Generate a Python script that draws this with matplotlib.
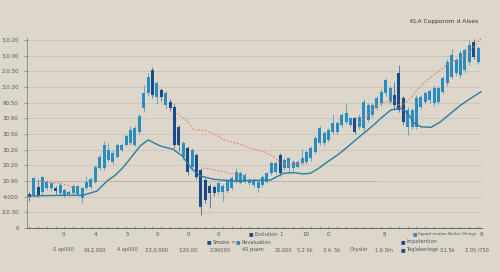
import numpy as np
import matplotlib
matplotlib.use("Agg")
import matplotlib.pyplot as plt

# candle data (open, close, high, low) per session
opens = [2.15, 2.11, 2.64, 2.32, 2.53, 2.53, 2.57, 2.25, 2.11, 2.15,
         2.21, 2.17, 1.90, 2.53, 2.60, 2.95, 3.81, 3.81, 4.34, 4.23,
         4.55, 4.98, 5.30, 5.41, 5.30, 6.15, 7.64, 8.60, 10.08, 8.38,
         8.81, 7.85, 8.06, 7.74, 6.46, 4.55, 5.09, 3.91, 4.66, 3.70,
         3.06, 2.68, 2.64, 2.32, 2.32, 2.38, 2.53, 2.95, 2.89, 2.95,
         2.89, 2.74, 2.53, 2.74, 2.95, 3.49, 3.59, 4.66, 3.81, 3.81,
         3.81, 3.91, 4.13, 4.23, 4.45, 4.87, 5.41, 5.41, 5.62, 6.15,
         6.15, 6.57, 6.78, 6.57, 7.00, 6.46, 6.36, 6.89, 7.21, 7.64,
         7.96, 8.60, 8.06, 8.49, 9.87, 8.28, 6.46, 6.46, 6.46, 7.74,
         8.06, 8.17, 7.96, 8.06, 8.70, 9.23, 9.66, 9.87, 9.76, 10.08,
         10.61, 11.89, 10.61]
closes = [1.96, 3.17, 2.11, 3.24, 2.95, 2.85, 2.38, 2.74, 2.43, 2.28,
          2.68, 2.68, 2.53, 2.95, 3.11, 3.87, 4.55, 5.30, 4.98, 4.81,
          5.30, 5.28, 5.87, 6.25, 6.36, 7.15, 8.60, 9.66, 8.49, 9.27,
          8.38, 8.60, 7.64, 5.30, 5.30, 5.41, 3.59, 4.98, 3.27, 1.36,
          1.79, 2.21, 2.21, 2.85, 2.68, 3.02, 3.17, 3.59, 3.53, 3.38,
          3.06, 3.06, 2.95, 3.27, 3.49, 4.13, 4.13, 3.49, 4.34, 4.45,
          4.23, 4.23, 4.45, 4.87, 5.09, 5.72, 6.36, 6.04, 6.25, 6.68,
          6.68, 7.21, 7.36, 7.00, 6.15, 7.10, 8.06, 7.85, 7.85, 8.28,
          8.70, 9.44, 8.92, 7.85, 7.53, 6.78, 7.53, 7.53, 8.28, 8.38,
          8.60, 8.74, 8.92, 8.92, 9.55, 10.61, 11.04, 10.72, 11.15, 11.36,
          11.68, 10.93, 11.47]
highs = [2.30, 3.25, 3.10, 3.30, 3.05, 2.95, 2.70, 2.85, 2.55, 2.40,
         2.80, 2.75, 2.60, 3.30, 3.25, 4.00, 4.70, 5.55, 5.45, 4.95,
         5.40, 5.45, 6.00, 6.50, 6.50, 7.30, 9.10, 9.90, 10.29, 9.35,
         8.95, 8.75, 8.20, 7.90, 6.60, 5.55, 5.20, 5.10, 4.80, 3.85,
         3.20, 2.85, 2.75, 2.95, 2.80, 3.15, 3.30, 3.80, 3.65, 3.50,
         3.20, 3.15, 3.05, 3.40, 3.60, 4.25, 4.30, 4.80, 4.45, 4.55,
         4.35, 4.35, 5.05, 5.00, 5.20, 5.85, 6.50, 6.20, 6.40, 7.30,
         6.80, 7.35, 8.00, 7.10, 7.10, 7.25, 8.25, 8.00, 7.95, 8.40,
         8.85, 9.60, 9.05, 9.30, 10.40, 8.45, 7.70, 7.65, 8.50, 8.50,
         8.75, 8.85, 9.10, 9.05, 9.70, 10.80, 11.40, 10.85, 11.35, 11.50,
         12.00, 12.05, 11.60]
lows = [1.75, 2.00, 1.98, 2.10, 2.40, 2.35, 2.20, 2.05, 2.00, 2.05,
        2.10, 2.05, 1.61, 2.45, 2.50, 2.85, 3.70, 3.70, 4.20, 4.10,
        4.45, 4.85, 5.20, 5.30, 5.20, 6.00, 7.40, 8.40, 8.30, 7.90,
        8.10, 7.60, 7.45, 5.10, 4.90, 4.35, 3.40, 3.75, 3.10, 0.83,
        1.60, 1.28, 2.05, 2.15, 1.70, 2.25, 2.40, 2.85, 2.80, 2.85,
        2.75, 2.60, 2.32, 2.60, 2.85, 3.40, 3.45, 3.30, 3.70, 3.60,
        3.65, 3.80, 4.00, 4.10, 4.30, 4.75, 5.30, 5.25, 5.50, 6.00,
        6.00, 6.45, 6.65, 6.45, 6.00, 6.30, 6.20, 6.75, 7.05, 7.50,
        7.80, 8.45, 7.90, 7.55, 7.40, 6.60, 5.94, 6.30, 6.30, 7.60,
        7.90, 8.00, 7.80, 7.90, 8.55, 9.05, 9.50, 9.70, 9.60, 9.90,
        10.40, 10.75, 10.45]

# slow moving average (teal)
ma_x = [-0.3, 7.7, 12.2, 15.4, 17.7, 19.5, 21.3, 23.4, 25.2, 27.0,
        28.2, 29.8, 32.7, 34.8, 37.0, 38.9, 41.8, 46.4, 50.3, 54.8,
        57.8, 60.1, 62.3, 63.9, 65.8, 67.8, 70.1, 72.4, 74.6, 76.9,
        78.7, 79.9, 82.2, 84.4, 86.0, 87.5, 89.0, 91.3, 93.5, 95.8,
        98.1, 100.4, 102.7]
ma_y = [2.04, 2.09, 2.09, 2.36, 3.00, 3.36, 3.85, 4.59, 5.23, 5.62,
        5.45, 5.23, 5.02, 4.59, 3.75, 3.32, 3.11, 3.00, 3.04, 3.06,
        3.49, 3.53, 3.45, 3.49, 3.81, 4.23, 4.66, 5.19, 5.72, 6.25,
        6.68, 7.00, 7.53, 7.64, 7.32, 6.68, 6.46, 6.42, 6.78, 7.32,
        7.85, 8.28, 8.70]

# dashed trend (orange), nan = gap
tr_x = [2.4, 4.3, 6.3, 8.6, 10.4, np.nan,
        33.6, 35.9, 37.4, 39.6, 41.9, 44.2, 47.2, 50.3, 53.3, 55.6, 57.1, 60.1, 62.8, np.nan,
        39.6, 43.4, 47.3, 48.4, np.nan,
        74.9, 76.9, 79.1, 81.4, 82.8, 84.4, 86.3, 88.5, 91.3, 93.5, 95.8, 98.1, 100.4, 102.7]
tr_y = [3.00, 2.87, 2.89, 2.74, 2.49, np.nan,
        7.32, 6.83, 6.25, 6.25, 6.04, 5.62, 5.41, 5.09, 4.87, 4.55, 4.13, 4.08, 4.15, np.nan,
        3.83, 3.64, 3.38, 3.25, np.nan,
        6.70, 7.21, 7.85, 8.06, 8.17, 7.74, 8.17, 8.93, 9.66, 10.08, 10.59, 10.83, 11.36, 12.11]

ylabels = ["0", "2.0.30", "4.020", "20.90", "20.20", "30.20", "30.50",
           "30.90", "90.50", "3.0.20", "2.0.50", "3.0.00", "3.0.20"]
row1 = ["0", "4", "5", "0", "0", "0", "1", "10", "0", "8", "9"]
row1_px = [63, 95, 127, 157, 188, 218, 281, 306, 328, 384, 481]
row3 = ["0 ap000", "14,2.000", "4 ap000", "3.2,0.000", "3.20.00", "2.90000",
        "40 psam", "25,000", "5.2 Sk", "3.4. 5k", "Chyslin", "1.6 Sfn",
        "3.1.5k", "3.05 /750"]
row3_px = [63, 95, 127, 157, 188, 220, 253, 283, 305, 332, 359, 384, 447, 477]

bg = '#ddd6ca'
light = '#2a8cbf'
dark = '#1b4a88'

fig = plt.figure(figsize=(5, 2.72), dpi=100, facecolor=bg)
ax = fig.add_axes([27/500, 1-228/272, 455/500, 190/272])
ax.set_facecolor(bg)

x = np.arange(len(opens))
o = np.array(opens); c = np.array(closes)
down = c < o
cols = np.where(down, dark, light)
ax.vlines(x, lows, highs, colors=cols, linewidth=0.6, alpha=0.75, zorder=3)
ax.bar(x, np.abs(c-o), bottom=np.minimum(o, c), width=0.7, color=cols, zorder=4)

ax.plot(ma_x, ma_y, color='#2b7d9e', lw=1.0, zorder=5)
ax.plot(tr_x, tr_y, color='#e3805e', lw=0.7, ls=(0, (2, 1.6)), zorder=5)
ax.plot([-0.5, 78.7], [3.0, 3.0], color='#9c968c', lw=0.5, ls=(0, (1.5, 1.5)), zorder=2)

ax.set_xlim(-0.52, 102.9)
ax.set_ylim(0, 12.12)
ax.set_yticks(range(13))
ax.set_yticklabels(ylabels, fontsize=4, color='#555')
ax.grid(axis='y', color='#cbc4b7', lw=0.6)
ax.set_axisbelow(True)
ax.tick_params(axis='y', length=2, width=0.5, color='#777', pad=4)
ax.set_xticks(np.arange(0, 103, 2))
ax.set_xticklabels([])
ax.tick_params(axis='x', length=1.8, width=0.5, color='#777', direction='in')
for s in ['top', 'right']:
    ax.spines[s].set_visible(False)
ax.spines['left'].set_color('#888')
ax.spines['left'].set_linewidth(0.6)
ax.spines['bottom'].set_color('#666')
ax.spines['bottom'].set_linewidth(0.7)

fig.text(410/500, 1-21/272, "KLA Copporom d Alses", fontsize=4.3, color='#333', va='center')

def fx(px):
    return px/500

y1, y2, y3 = 1-234/272, 1-242/272, 1-250/272
for t, p in zip(row1, row1_px):
    fig.text(fx(p), y1, t, fontsize=4, color='#555', ha='center', va='center')
for t, p in zip(row3, row3_px):
    fig.text(fx(p), y3, t, fontsize=3.6, color='#555', ha='center', va='center')

# legend-like entries
legend = [(251, y1, dark, "Evolution", 3.6), (415, y1, light, "Sppad mation Notlet Ghinge", 3.0),
          (209, y2, dark, "Smoke", 3.6), (238, y2, light, "Revaluation", 3.6),
          (403, y2, dark, "Impotention", 3.6), (403, y3, dark, "Tegleberloge", 3.6)]
for p, yy, col, t, fs in legend:
    fig.text(fx(p), yy, "■", fontsize=3.5, color=col, ha='center', va='center')
    fig.text(fx(p+3.5), yy, t, fontsize=fs, color='#555', ha='left', va='center')
fig.text(fx(233), y2, "■", fontsize=2.5, color='#e3805e', ha='center', va='center')

fig.savefig("out.png", dpi=100, facecolor=bg)
